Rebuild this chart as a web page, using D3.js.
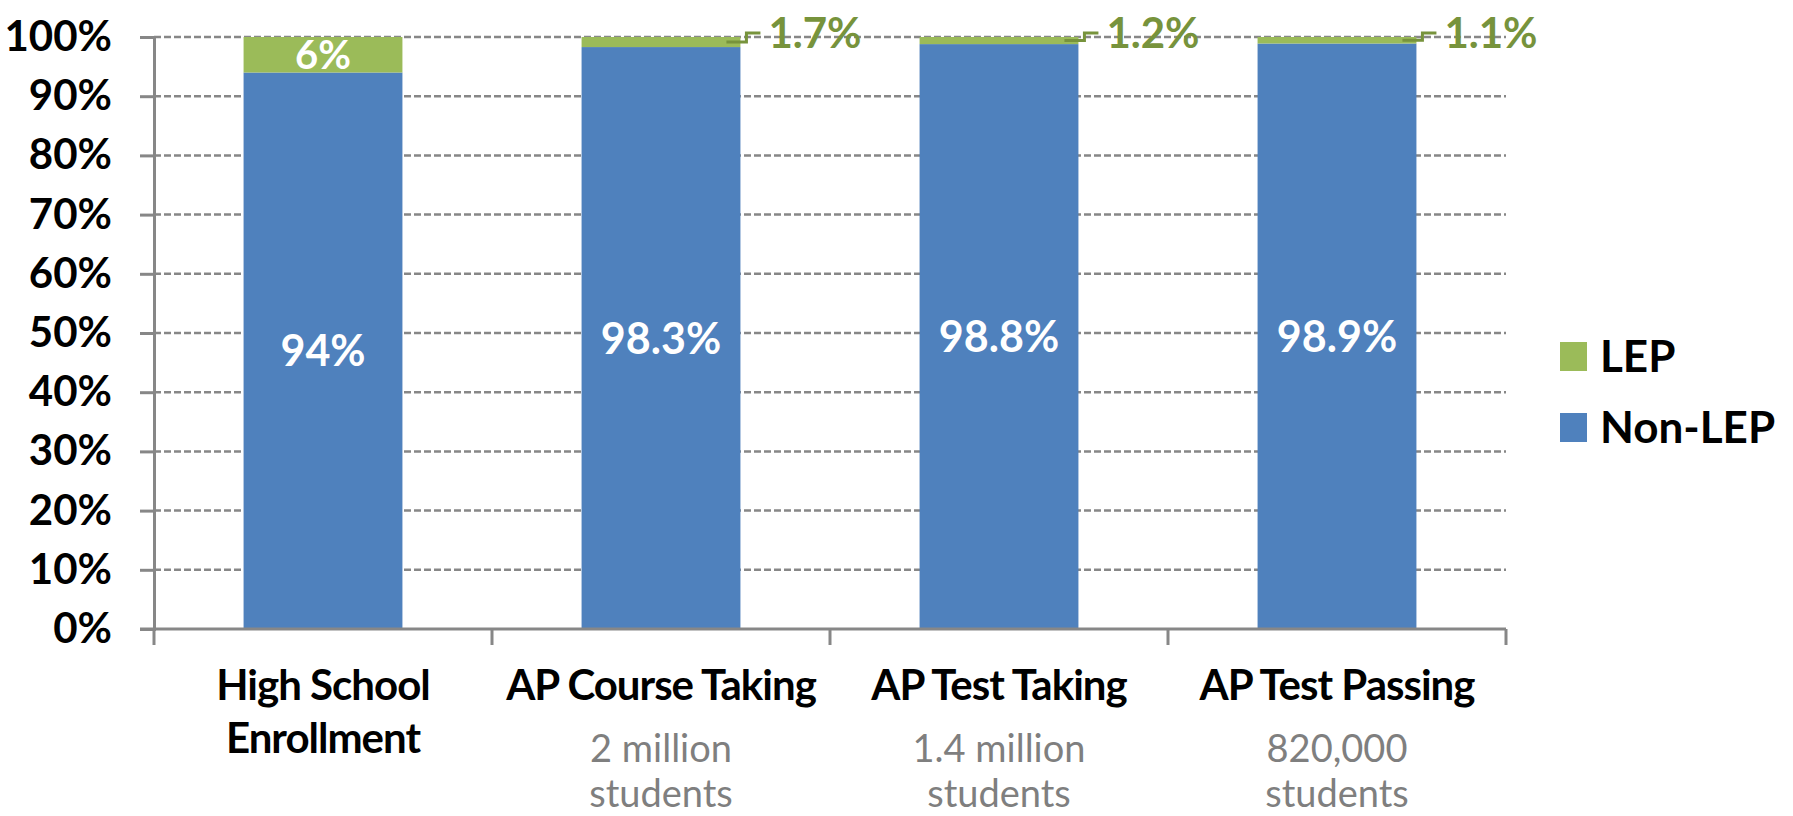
<!DOCTYPE html>
<html>
<head>
<meta charset="utf-8">
<script src="https://cdn.jsdelivr.net/npm/d3@7"></script>
<style>
  body { margin: 0; background: #fff; }
  text { font-family: Lato, "Open Sans", sans-serif; }
</style>
</head>
<body>
<div id="chart"></div>
<script>
// chart data
const categories = ["High School Enrollment", "AP Course Taking", "AP Test Taking", "AP Test Passing"];
const catLines = [["High School", "Enrollment"], ["AP Course Taking"], ["AP Test Taking"], ["AP Test Passing"]];
const subLines = [[], ["2 million", "students"], ["1.4 million", "students"], ["820,000", "students"]];
const nonLep = [94, 98.3, 98.8, 98.9];
const lep = [6, 1.7, 1.2, 1.1];
const yTicks = [0, 10, 20, 30, 40, 50, 60, 70, 80, 90, 100];
const seriesNames = ["LEP", "Non-LEP"];

const blue = "#4F81BD", green = "#9BBB59", darkGreen = "#77933C", grey = "#878787";

const width = 1793, height = 816;
const margin = { top: 37, left: 154, right: 1506, bottom: 629 };

const svg = d3.select("#chart").append("svg")
  .attr("width", width)
  .attr("height", height);

// scales
const x = d3.scaleBand()
  .domain(categories)
  .range([margin.left, margin.right])
  .paddingInner(0.53)
  .paddingOuter(0.265);

const y = d3.scaleLinear()
  .domain([0, 100])
  .range([margin.bottom, margin.top]);

// dashed gridlines
svg.append("g")
  .selectAll("line")
  .data(yTicks.filter(d => d > 0))
  .enter()
  .append("line")
  .attr("x1", margin.left)
  .attr("x2", margin.right)
  .attr("y1", d => y(d))
  .attr("y2", d => y(d))
  .style("stroke", grey)
  .style("stroke-width", 2.5)
  .style("stroke-dasharray", "7,3");

// stacked bars
const rows = categories.map((c, i) => ({ cat: c, non: nonLep[i], lep: lep[i] }));

svg.append("g").selectAll("rect")
  .data(rows)
  .enter()
  .append("rect")
  .attr("x", d => x(d.cat))
  .attr("width", x.bandwidth())
  .attr("y", d => y(d.non))
  .attr("height", d => y(0) - y(d.non))
  .style("fill", blue);

svg.append("g").selectAll("rect")
  .data(rows)
  .enter()
  .append("rect")
  .attr("x", d => x(d.cat))
  .attr("width", x.bandwidth())
  .attr("y", d => y(d.non + d.lep))
  .attr("height", d => y(d.non) - y(d.non + d.lep))
  .style("fill", green);

// y axis
const yAxis = svg.append("g")
  .attr("transform", "translate(" + margin.left + ",0)")
  .call(d3.axisLeft(y).tickValues(yTicks).tickFormat(d => d + "%").tickSize(14).tickPadding(28));
yAxis.select(".domain").style("stroke", grey).style("stroke-width", 3);
yAxis.selectAll(".tick line").style("stroke", grey).style("stroke-width", 3);
yAxis.selectAll("text")
  .style("font-size", "42px")
  .style("font-weight", "bold")
  .style("fill", "#000");

// x axis with ticks on the band edges
const edges = categories.map(c => x(c) - x.step() * x.paddingInner() / 2).concat([margin.right]);
svg.append("line")
  .attr("x1", margin.left - 14)
  .attr("x2", margin.right)
  .attr("y1", y(0))
  .attr("y2", y(0))
  .style("stroke", grey)
  .style("stroke-width", 3);
svg.append("g").selectAll("line")
  .data(edges)
  .enter()
  .append("line")
  .attr("x1", d => d)
  .attr("x2", d => d)
  .attr("y1", y(0))
  .attr("y2", y(0) + 16)
  .style("stroke", grey)
  .style("stroke-width", 3);

// category labels
rows.forEach((d, i) => {
  const cx = x(d.cat) + x.bandwidth() / 2;
  catLines[i].forEach((t, j) => {
    svg.append("text")
      .attr("x", cx)
      .attr("y", 700 + j * 53)
      .attr("text-anchor", "middle")
      .style("font-size", "42px")
      .style("font-weight", "bold")
      .style("letter-spacing", "-1px")
      .style("fill", "#000")
      .text(t);
  });
  subLines[i].forEach((t, j) => {
    svg.append("text")
      .attr("x", cx)
      .attr("y", 762 + j * 45)
      .attr("text-anchor", "middle")
      .style("font-size", "38px")
      .style("fill", "#7f7f7f")
      .text(t);
  });
});

// value labels inside blue bars
svg.append("g").selectAll("text")
  .data(rows)
  .enter()
  .append("text")
  .attr("x", d => x(d.cat) + x.bandwidth() / 2)
  .attr("y", d => y(d.non / 2))
  .attr("dy", "0.36em")
  .attr("text-anchor", "middle")
  .style("font-size", "43px")
  .style("font-weight", "bold")
  .style("fill", "#fff")
  .text(d => d.non + "%");

// LEP labels: inside when large, with a leader line when thin
rows.forEach(d => {
  const midY = y(d.non + d.lep / 2);
  if (d.lep >= 3) {
    svg.append("text")
      .attr("x", x(d.cat) + x.bandwidth() / 2)
      .attr("y", midY)
      .attr("dy", "0.36em")
      .attr("text-anchor", "middle")
      .style("font-size", "40px")
      .style("font-weight", "bold")
      .style("fill", "#fff")
      .text(d.lep + "%");
  } else {
    const right = x(d.cat) + x.bandwidth();
    const labelY = y(100) - 4;
    svg.append("path")
      .attr("d", "M" + (right - 14) + "," + midY + "H" + (right + 6) + "V" + labelY + "H" + (right + 20))
      .style("fill", "none")
      .style("stroke", darkGreen)
      .style("stroke-width", 3);
    svg.append("text")
      .attr("x", right + 28)
      .attr("y", labelY)
      .attr("dy", "0.36em")
      .style("font-size", "42px")
      .style("font-weight", "bold")
      .style("fill", darkGreen)
      .text(d.lep + "%");
  }
});

// legend
const legend = svg.append("g").attr("transform", "translate(1560,342)");
seriesNames.forEach((s, i) => {
  legend.append("rect")
    .attr("x", 0)
    .attr("y", i * 71)
    .attr("width", 27)
    .attr("height", 29)
    .style("fill", s === "LEP" ? green : blue);
  legend.append("text")
    .attr("x", 40)
    .attr("y", i * 71 + 14)
    .attr("dy", "0.36em")
    .style("font-size", "44px")
    .style("font-weight", "bold")
    .style("fill", "#000")
    .text(s);
});
</script>
</body>
</html>
